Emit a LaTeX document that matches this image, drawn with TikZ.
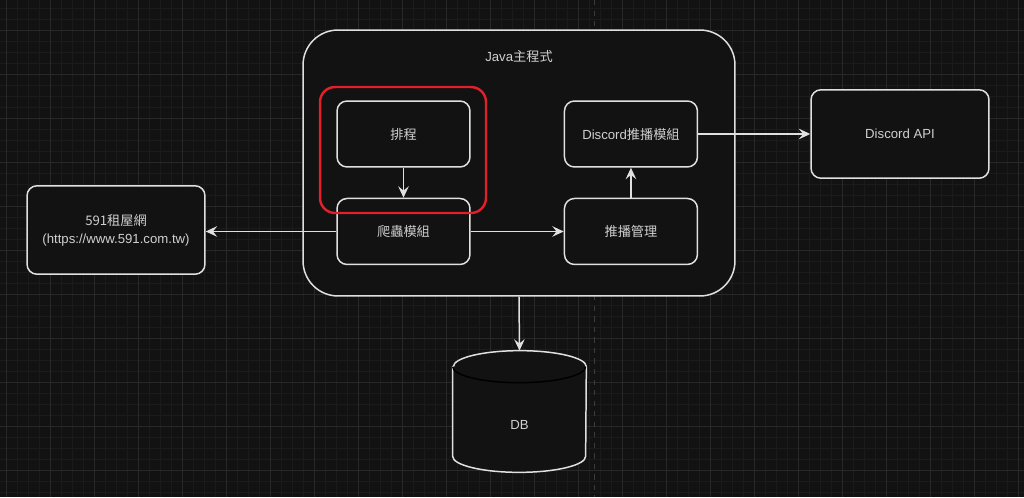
\documentclass[tikz,border=0pt]{standalone}
\usepackage{fontspec}
\setmainfont{Liberation Sans}
\newfontfamily\cjk{Noto Sans CJK TC}
\usepackage{tikz}
\usetikzlibrary{arrows.meta, positioning}
\definecolor{canvas}{HTML}{121212}
\definecolor{gridminor}{HTML}{1B1B1B}
\definecolor{gridmajor}{HTML}{282828}
\definecolor{pageline}{HTML}{3C3C3C}
\definecolor{stroke}{HTML}{E0E0E0}
\definecolor{ink}{HTML}{D0D0D0}
\definecolor{alert}{HTML}{E1202A}

\begin{document}
\begin{tikzpicture}[
    x=0.02cm, y=-0.02cm,
    box/.style={rectangle, rounded corners=#1, draw=stroke, fill=canvas,
                line width=0.85pt, text=ink, align=center,
                font=\fontsize{7.5pt}{10.2pt}\selectfont},
    box/.default=0.2cm,
    module/.style={box, minimum width=2.66cm, minimum height=1.32cm},
    outer/.style={box, minimum width=3.56cm, minimum height=1.77cm},
    txt/.style={text=ink, font=\fontsize{7.5pt}{10.2pt}\selectfont, inner sep=0pt},
    arr/.style={-{Stealth[length=6.5pt, width=6pt, inset=2.4pt]}, draw=stroke, line width=0.85pt}
]
% Canvas and grid
\fill[canvas] (0,0) rectangle (1024,497);
\useasboundingbox (0,0) rectangle (1024,497);
\foreach \x in {6,17,...,1024} \draw[gridminor, line width=0.4pt] (\x,0) -- (\x,497);
\foreach \y in {8,19,...,497} \draw[gridminor, line width=0.4pt] (0,\y) -- (1024,\y);
\foreach \x in {6,50,...,1024} \draw[gridmajor, line width=0.5pt] (\x,0) -- (\x,497);
\foreach \y in {30,74,...,497} \draw[gridmajor, line width=0.5pt] (0,\y) -- (1024,\y);
\draw[pageline, dashed, line width=0.5pt] (594.5,0) -- (594.5,497);

% Nodes
\node[box=0.7cm, minimum width=8.64cm, minimum height=5.32cm] (java) at (519,163) {};
\node[txt, below=0.41cm of java.north] (javatitle) {Java{\cjk 主程式}};
\node[module] (sched) at (403.5,134) {\cjk 排程};
\node[module, below=0.6cm of sched] (crawl) {\cjk 爬蟲模組};
\node[module, right=1.86cm of sched] (dmod) {Discord{\cjk 推播模組}};
\node[module, below=0.6cm of dmod] (push) {\cjk 推播管理};
\node[outer] (dapi) at (900,134) {Discord API};
\node[outer] (site) at (116,230) {{\cjk 591租屋網}\\(https://www.591.com.tw)};
\node[minimum width=2.66cm, minimum height=2.42cm, inner sep=0pt] (db) at (519.5,411.5) {};

% DB cylinder
\filldraw[fill=canvas, draw=stroke, line width=0.85pt]
    ([yshift=-0.32cm]db.north west) -- ([yshift=0.32cm]db.south west)
    arc[start angle=180, end angle=360, x radius=1.33cm, y radius=0.32cm]
    -- ([yshift=-0.32cm]db.north east)
    arc[start angle=0, end angle=180, x radius=1.33cm, y radius=0.32cm] -- cycle;
\draw[stroke, line width=0.85pt] ([yshift=-0.32cm]db.north west)
    arc[start angle=180, end angle=360, x radius=1.33cm, y radius=0.32cm];
\node[txt] (dblabel) at ([yshift=-0.27cm]db.center) {DB};

% Arrows
\draw[arr] (sched) -- (crawl);
\draw[arr] (crawl) -- (push);
\draw[arr] (push) -- (dmod);
\draw[arr] (dmod) -- (dmod -| dapi.west);
\draw[arr] (crawl.west) -- (crawl.west -| site.east);
\draw[arr] (java.south) -- (db.north);

% Highlight
\node[rectangle, rounded corners=0.3cm, draw=alert, line width=1.4pt,
      minimum width=3.32cm, minimum height=2.52cm] (focus) at (403,150) {};
\end{tikzpicture}
\end{document}
